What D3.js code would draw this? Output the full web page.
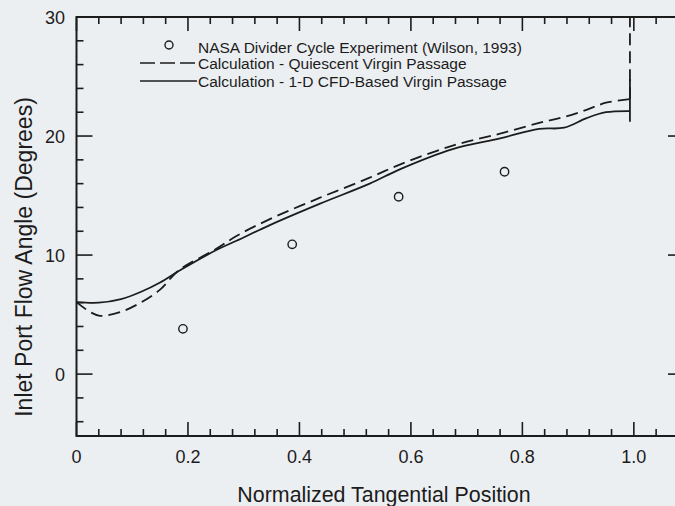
<!DOCTYPE html>
<html>
<head>
<meta charset="utf-8">
<script src="https://cdn.jsdelivr.net/npm/d3@7"></script>
<style>
  html, body { margin: 0; padding: 0; background: #eceff2; }
  svg { display: block; font-family: "Liberation Sans", Arial, sans-serif; }
</style>
</head>
<body>
<svg width="675" height="506"></svg>
<script>
// experiment points (Wilson, 1993)
const expX = [0.191, 0.387, 0.578, 0.768];
const expY = [3.8, 10.9, 14.9, 17.0];

// quiescent virgin passage (dashed)
const quiescentX = [0, 0.025, 0.042, 0.078, 0.115, 0.15, 0.183, 0.25, 0.287, 0.346, 0.436, 0.526, 0.58, 0.675, 0.76, 0.83, 0.875, 0.915, 0.95, 0.993];
const quiescentY = [6.05, 5.2, 4.9, 5.2, 6.0, 7.1, 8.7, 10.5, 11.6, 13.0, 14.8, 16.5, 17.6, 19.2, 20.2, 21.1, 21.6, 22.2, 22.8, 23.1];
const quiescentEnd = [23.1, 30];

// 1-D CFD-based virgin passage (solid)
const cfdX = [0, 0.04, 0.08, 0.115, 0.15, 0.185, 0.25, 0.287, 0.346, 0.436, 0.526, 0.58, 0.675, 0.76, 0.83, 0.875, 0.915, 0.95, 0.993];
const cfdY = [6.05, 6.0, 6.3, 6.9, 7.7, 8.7, 10.4, 11.2, 12.5, 14.3, 16.0, 17.2, 18.9, 19.8, 20.6, 20.7, 21.5, 22.0, 22.1];
const cfdEnd = [21.2, 24.8];

const xTicks = [0, 0.2, 0.4, 0.6, 0.8, 1.0];
const xTickLabels = ["0", "0.2", "0.4", "0.6", "0.8", "1.0"];
const yTicks = [0, 10, 20, 30];

const legendLabels = [
  "NASA Divider Cycle Experiment (Wilson, 1993)",
  "Calculation - Quiescent Virgin Passage",
  "Calculation - 1-D CFD-Based Virgin Passage"
];

const svg = d3.select("svg");
const ink = "#1c1c1c";

const x = d3.scaleLinear().domain([0, 1.09]).range([76.5, 684]);
const y = d3.scaleLinear().domain([-5.2, 30]).range([436, 17]);

const g = svg.append("g");

// minor / major ticks, all pointing inward
const minorX = d3.range(0, 1.09, 0.04).map(v => +v.toFixed(2));
const minorY = d3.range(-4, 30.1, 2);
const isMajorX = v => Math.abs(v * 5 - Math.round(v * 5)) < 1e-6;
const isMajorY = v => v % 10 === 0;

// bottom and top ticks
g.selectAll(".tb").data(minorX).enter().append("line")
  .attr("x1", d => x(d)).attr("x2", d => x(d))
  .attr("y1", y(-5.2)).attr("y2", d => y(-5.2) - (isMajorX(d) ? 14 : 7))
  .attr("stroke", ink).attr("stroke-width", 1.6);
g.selectAll(".tt").data(minorX).enter().append("line")
  .attr("x1", d => x(d)).attr("x2", d => x(d))
  .attr("y1", y(30)).attr("y2", d => y(30) + (isMajorX(d) ? 14 : 7))
  .attr("stroke", ink).attr("stroke-width", 1.6);

// left and right ticks
g.selectAll(".tl").data(minorY).enter().append("line")
  .attr("x1", x(0)).attr("x2", d => x(0) + (isMajorY(d) ? 16 : 7))
  .attr("y1", d => y(d)).attr("y2", d => y(d))
  .attr("stroke", ink).attr("stroke-width", 1.6);
g.selectAll(".tr").data(minorY).enter().append("line")
  .attr("x1", x(1.09)).attr("x2", d => x(1.09) - (isMajorY(d) ? 16 : 7))
  .attr("y1", d => y(d)).attr("y2", d => y(d))
  .attr("stroke", ink).attr("stroke-width", 1.6);

// frame
g.append("rect")
  .attr("x", x(0)).attr("y", y(30))
  .attr("width", x(1.09) - x(0)).attr("height", y(-5.2) - y(30))
  .attr("fill", "none").attr("stroke", ink).attr("stroke-width", 2);

// tick labels
g.selectAll(".xl").data(xTicks).enter().append("text")
  .attr("x", d => x(d)).attr("y", 463)
  .attr("text-anchor", "middle").attr("font-size", 18).attr("fill", ink)
  .text((d, i) => xTickLabels[i]);
g.selectAll(".yl").data(yTicks).enter().append("text")
  .attr("x", 65).attr("y", d => y(d) + 6.5)
  .attr("text-anchor", "end").attr("font-size", 18).attr("fill", ink)
  .text(d => d);

// axis titles
svg.append("text")
  .attr("x", 384).attr("y", 502)
  .attr("text-anchor", "middle").attr("font-size", 21.4).attr("fill", ink)
  .text("Normalized Tangential Position");
svg.append("text")
  .attr("transform", "translate(32,257) rotate(-90)")
  .attr("text-anchor", "middle").attr("font-size", 23).attr("fill", ink)
  .text("Inlet Port Flow Angle (Degrees)");

// curves
const line = d3.line()
  .curve(d3.curveCatmullRom)
  .x(d => x(d[0]))
  .y(d => y(d[1]));

const quiescent = quiescentX.map((v, i) => [v, quiescentY[i]]);
const cfd = cfdX.map((v, i) => [v, cfdY[i]]);

g.append("path")
  .attr("d", line(quiescent))
  .attr("fill", "none").attr("stroke", ink).attr("stroke-width", 1.8)
  .attr("stroke-dasharray", "12,6");
g.append("line")
  .attr("x1", x(0.993)).attr("x2", x(0.993))
  .attr("y1", y(quiescentEnd[0])).attr("y2", y(quiescentEnd[1]))
  .attr("stroke", ink).attr("stroke-width", 1.8)
  .attr("stroke-dasharray", "12,6");

g.append("path")
  .attr("d", line(cfd))
  .attr("fill", "none").attr("stroke", ink).attr("stroke-width", 1.8);
g.append("line")
  .attr("x1", x(0.993)).attr("x2", x(0.993))
  .attr("y1", y(cfdEnd[0])).attr("y2", y(cfdEnd[1]))
  .attr("stroke", ink).attr("stroke-width", 1.8);

// experiment markers
g.selectAll(".pt").data(expX).enter().append("circle")
  .attr("cx", d => x(d)).attr("cy", (d, i) => y(expY[i]))
  .attr("r", 4.2)
  .attr("fill", "none").attr("stroke", ink).attr("stroke-width", 1.4);

// legend
const legend = svg.append("g");
const rowY = [53, 69, 87];
legend.append("circle")
  .attr("cx", 169).attr("cy", rowY[0] - 8).attr("r", 4)
  .attr("fill", "none").attr("stroke", ink).attr("stroke-width", 1.4);
legend.append("line")
  .attr("x1", 140).attr("x2", 197).attr("y1", rowY[1] - 6).attr("y2", rowY[1] - 6)
  .attr("stroke", ink).attr("stroke-width", 1.6).attr("stroke-dasharray", "15,5");
legend.append("line")
  .attr("x1", 140).attr("x2", 197).attr("y1", rowY[2] - 6).attr("y2", rowY[2] - 6)
  .attr("stroke", ink).attr("stroke-width", 1.6);
legend.selectAll(".lt").data(legendLabels).enter().append("text")
  .attr("x", 198).attr("y", (d, i) => rowY[i])
  .attr("font-size", 15.5).attr("fill", ink)
  .text(d => d);
</script>
</body>
</html>
